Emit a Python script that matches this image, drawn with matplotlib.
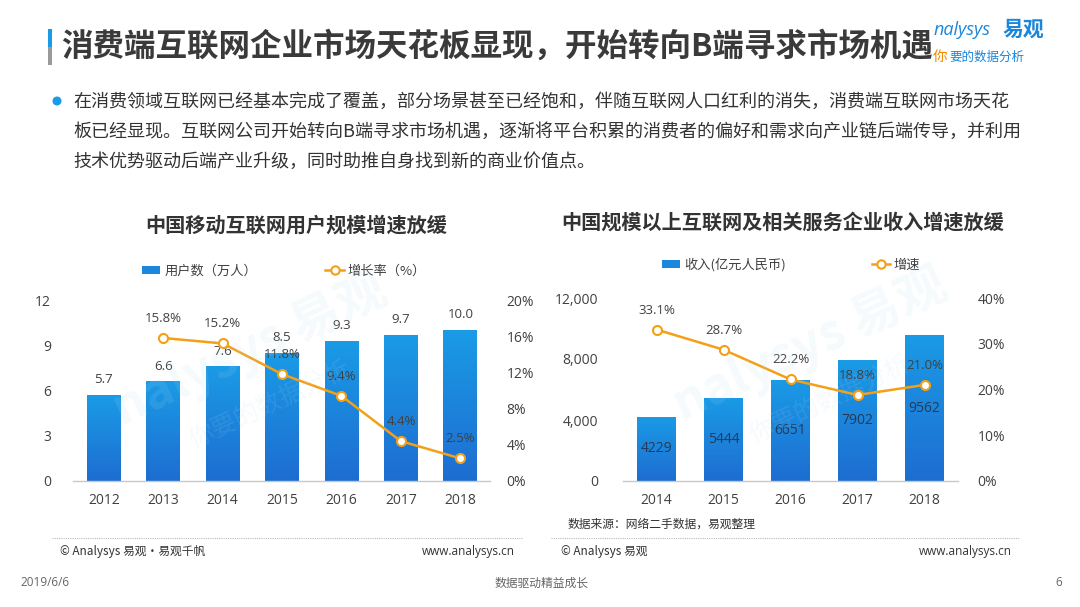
import matplotlib
matplotlib.use('Agg')
import matplotlib.pyplot as plt
import numpy as np
from matplotlib.lines import Line2D
from matplotlib.patches import Patch, Rectangle, Ellipse

plt.rcParams['font.family'] = ['Open Sans', 'Noto Sans CJK SC', 'DejaVu Sans']
CJK = ['Noto Sans CJK SC', 'DejaVu Sans']

# data
users_years = ['2012', '2013', '2014', '2015', '2016', '2017', '2018']
users = [5.7, 6.6, 7.6, 8.5, 9.3, 9.7, 10.0]
users_rate = [np.nan, 15.8, 15.2, 11.8, 9.4, 4.4, 2.5]

rev_years = ['2014', '2015', '2016', '2017', '2018']
revenue = [4229, 5444, 6651, 7902, 9562]
rev_rate = [33.1, 28.7, 22.2, 18.8, 21.0]

BAR_TOP = '#1a9be6'
BAR_BOT = '#1e6dd1'
ORANGE = '#f4a017'
TXT = '#404040'

W, H = 1080, 607
fig = plt.figure(figsize=(W / 100, H / 100), dpi=100)


def fx(px):
    return px / W


def fy(py):
    return 1 - py / H


def grad_bars(ax, bars):
    grad = np.linspace(0, 1, 256).reshape(-1, 1)
    cmap = matplotlib.colors.LinearSegmentedColormap.from_list('g', [BAR_BOT, BAR_TOP])
    for b in bars:
        x0, y0 = b.get_x(), b.get_y()
        w, h = b.get_width(), b.get_height()
        im = ax.imshow(grad, cmap=cmap, extent=[x0, x0 + w, y0, y0 + h],
                       origin='lower', aspect='auto', zorder=2)
        im.set_clip_path(b)
        b.set_facecolor('none')


def style_axes(ax, ax2):
    for a in (ax, ax2):
        for s in a.spines.values():
            s.set_visible(False)
        a.tick_params(length=0, labelsize=10, labelcolor=TXT)
    ax.spines['bottom'].set_visible(True)
    ax.spines['bottom'].set_color('#c8c8c8')
    ax.spines['bottom'].set_linewidth(1.0)


# ---------- title + text ----------
fig.add_artist(Rectangle((fx(48), fy(47)), fx(4), 18 / H, transform=fig.transFigure,
                         color='#1a9be6', lw=0))
fig.add_artist(Rectangle((fx(48), fy(65)), fx(4), 18 / H, transform=fig.transFigure,
                         color='#9a9a9a', lw=0))
fig.text(fx(61), fy(47), '消费端互联网企业市场天花板显现，开始转向B端寻求市场机遇',
         family=CJK, fontsize=22.7, fontweight='bold', color='#3a3a3a', va='center')

fig.text(fx(934), fy(30), 'nalysys', fontsize=13, style='italic', color='#1a86dc', va='center')
fig.text(fx(1003), fy(29), '易观', family=CJK, fontsize=15, fontweight='bold', color='#1a86dc', va='center')
fig.text(fx(933), fy(57), '你', family=CJK, fontsize=10.5, color='#f08c00', va='center')
fig.text(fx(949), fy(57), '要的数据分析', family=CJK, fontsize=9, color='#1a86dc', va='center')

fig.add_artist(Ellipse((fx(57), fy(101)), 9 / W, 9 / H, transform=fig.transFigure,
                       color='#1a9be6', lw=0))
body = ['在消费领域互联网已经基本完成了覆盖，部分场景甚至已经饱和，伴随互联网人口红利的消失，消费端互联网市场天花',
        '板已经显现。互联网公司开始转向B端寻求市场机遇，逐渐将平台积累的消费者的偏好和需求向产业链后端传导，并利用',
        '技术优势驱动后端产业升级，同时助推自身找到新的商业价值点。']
for i, line in enumerate(body):
    fig.text(fx(73), fy(102 + 30 * i), line, family=CJK, fontsize=13, color='#333333', va='center')

# ---------- left chart ----------
ax = fig.add_axes([fx(73), fy(481), fx(490) - fx(73), (481 - 300) / H])
x = np.arange(len(users_years))
bars = ax.bar(x, users, width=0.57, zorder=2)
grad_bars(ax, bars)
ax.set_xlim(-0.52, 6.5)
ax.set_ylim(0, 12)
ax.set_yticks([0, 3, 6, 9, 12])
ax.set_xticks(x)
ax.set_xticklabels(users_years)
ax2 = ax.twinx()
ax2.plot(x, users_rate, color=ORANGE, lw=1.8, marker='o', ms=6.5,
         mfc='white', mec=ORANGE, mew=1.5, zorder=4)
ax2.set_ylim(0, 20)
ax2.set_yticks([0, 4, 8, 12, 16, 20])
ax2.set_yticklabels([f'{v}%' for v in [0, 4, 8, 12, 16, 20]])
style_axes(ax, ax2)
ax.tick_params(axis='y', pad=16)
ax.tick_params(axis='x', pad=9)
ax2.tick_params(axis='y', pad=12)
for xi, v in zip(x, users):
    ax.annotate(f'{v:.1f}', (xi, v), xytext=(0, 11), textcoords='offset points',
                ha='center', va='center', fontsize=9.5, color=TXT, zorder=5)
for xi, v in zip(x, users_rate):
    if not np.isnan(v):
        ax2.annotate(f'{v}%', (xi, v), xytext=(0, 14), textcoords='offset points',
                     ha='center', va='center', fontsize=9.5, color=TXT, zorder=5)
fig.text(fx(296), fy(225), '中国移动互联网用户规模增速放缓', family=CJK, fontsize=14.5,
         fontweight='bold', color='#333333', ha='center', va='center')
h1 = [Patch(facecolor='#1b88de', edgecolor='none'),
      Line2D([], [], color=ORANGE, lw=1.8, marker='o', ms=6, mfc='white', mec=ORANGE, mew=1.5)]
fig.legend(h1, ['用户数（万人）', '增长率（%）'], loc='center', bbox_to_anchor=(fx(284), fy(271)),
           ncol=2, frameon=False, prop={'family': CJK, 'size': 9.5}, handlelength=1.4,
           handleheight=0.6, handletextpad=0.3, columnspacing=5.2, labelcolor=TXT)

# ---------- right chart ----------
bx = fig.add_axes([fx(623), fy(481), fx(958) - fx(623), (481 - 298) / H])
xr = np.arange(len(rev_years))
bars = bx.bar(xr, revenue, width=0.57, zorder=2)
grad_bars(bx, bars)
bx.set_xlim(-0.5, 4.5)
bx.set_ylim(0, 12000)
bx.set_yticks([0, 4000, 8000, 12000])
bx.set_yticklabels(['0', '4,000', '8,000', '12,000'])
bx.set_xticks(xr)
bx.set_xticklabels(rev_years)
bx2 = bx.twinx()
bx2.plot(xr, rev_rate, color=ORANGE, lw=1.8, marker='o', ms=6.5,
         mfc='white', mec=ORANGE, mew=1.5, zorder=4)
bx2.set_ylim(0, 40)
bx2.set_yticks([0, 10, 20, 30, 40])
bx2.set_yticklabels([f'{v}%' for v in [0, 10, 20, 30, 40]])
style_axes(bx, bx2)
bx.tick_params(axis='y', pad=18)
bx.tick_params(axis='x', pad=9)
bx2.tick_params(axis='y', pad=14)
for xi, v in zip(xr, revenue):
    bx.text(xi, v / 2, f'{v}', ha='center', va='center', fontsize=10, color='#263a55', zorder=5)
for xi, v in zip(xr, rev_rate):
    bx2.annotate(f'{v:.1f}%', (xi, v), xytext=(0, 14), textcoords='offset points',
                 ha='center', va='center', fontsize=9.5, color=TXT, zorder=5)
fig.text(fx(783), fy(222), '中国规模以上互联网及相关服务企业收入增速放缓', family=CJK, fontsize=14.5,
         fontweight='bold', color='#333333', ha='center', va='center')
fig.legend(h1, ['收入(亿元人民币)', '增速'], loc='center', bbox_to_anchor=(fx(791), fy(265)),
           ncol=2, frameon=False, prop={'family': CJK, 'size': 9.5}, handlelength=1.4,
           handleheight=0.6, handletextpad=0.3, columnspacing=6.5, labelcolor=TXT)

# watermarks
for (wx, wy) in [(250, 350), (810, 345)]:
    fig.text(fx(wx), fy(wy), 'nalysys 易观', family=CJK, fontsize=36, fontweight='bold',
             color='#b5d8f2', alpha=0.13, rotation=25, ha='center', va='center', zorder=10)
    fig.text(fx(wx + 20), fy(wy + 55), '你要的数据分析', family=CJK, fontsize=18,
             color='#b5d8f2', alpha=0.12, rotation=25, ha='center', va='center', zorder=10)

# ---------- footer ----------
fig.add_artist(Line2D([fx(52), fx(523)], [fy(538), fy(538)], transform=fig.transFigure,
                      color='#bbbbbb', lw=0.8, ls=(0, (1, 1))))
fig.add_artist(Line2D([fx(551), fx(1019)], [fy(538), fy(538)], transform=fig.transFigure,
                      color='#bbbbbb', lw=0.8, ls=(0, (1, 1))))
fig.text(fx(568), fy(524), '数据来源：网络二手数据，易观整理', family=CJK, fontsize=8.5, color='#333333', va='center')
fig.text(fx(60), fy(551), '© Analysys 易观•易观千帆', family=CJK, fontsize=8.5, color='#333333', va='center')
fig.text(fx(515), fy(551), 'www.analysys.cn', fontsize=8.5, color='#333333', va='center', ha='right')
fig.text(fx(561), fy(551), '© Analysys 易观', family=CJK, fontsize=8.5, color='#333333', va='center')
fig.text(fx(1012), fy(551), 'www.analysys.cn', fontsize=8.5, color='#333333', va='center', ha='right')
fig.text(fx(20), fy(583), '2019/6/6', fontsize=8.5, color='#666666', va='center')
fig.text(fx(542), fy(583), '数据驱动精益成长', family=CJK, fontsize=8.5, color='#666666', va='center', ha='center')
fig.text(fx(1055), fy(583), '6', fontsize=8.5, color='#666666', va='center')

fig.savefig('out.png', dpi=100)
